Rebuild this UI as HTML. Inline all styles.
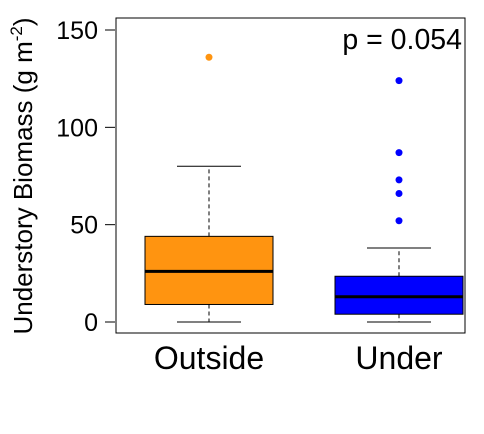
<!DOCTYPE html>
<html><head><meta charset="utf-8"><style>
body{margin:0;background:#fff}
text{font-family:"Liberation Sans",Arial,sans-serif}
</style></head><body>
<svg id="chart" width="484" height="429" xmlns="http://www.w3.org/2000/svg"></svg>
<script>
const categories=["Outside","Under"];
const colors=["#FF9410","#0000FF"];
const q1=[9,4];
const medians=[26,13];
const q3=[44,23.5];
const whiskLow=[0,0];
const whiskHigh=[80,38];
const outliers=[[136],[124,87,73,66,52]];
const yTicks=[0,50,100,150];
const pLabel="p = 0.054";

const svg=document.getElementById('chart');
const NS="http://www.w3.org/2000/svg";
function y(v){return 322-v*(322-30)/150;}
function xc(i){return 209+i*190;}
const halfW=64;
function mk(tag,attrs,parent){const e=document.createElementNS(NS,tag);for(const k in attrs)e.setAttribute(k,attrs[k]);(parent||svg).appendChild(e);return e;}

const frame=mk('rect',{x:116,y:18,width:349,height:315,fill:'none',stroke:'#000','stroke-width':1});



yTicks.forEach(t=>{
  const l=mk('line',{x1:105,x2:115,y1:y(t),y2:y(t),stroke:'#000'});
  
  
  const tx=mk('text',{x:98,y:y(t)+9,'text-anchor':'end','font-size':25});
  tx.textContent=t;
  
  
});

categories.forEach((c,i)=>{
  const g=mk('g',{});
  
  
  const cx=xc(i);
  mk('line',{x1:cx,x2:cx,y1:y(q3[i]),y2:y(whiskHigh[i]),stroke:'#000','stroke-dasharray':'4,3'},g);
  mk('line',{x1:cx,x2:cx,y1:y(q1[i]),y2:y(whiskLow[i]),stroke:'#000','stroke-dasharray':'4,3'},g);
  mk('line',{x1:cx-32,x2:cx+32,y1:y(whiskHigh[i]),y2:y(whiskHigh[i]),stroke:'#000'},g);
  mk('line',{x1:cx-32,x2:cx+32,y1:y(whiskLow[i]),y2:y(whiskLow[i]),stroke:'#000'},g);
  mk('rect',{x:cx-halfW,y:y(q3[i]),width:halfW*2,height:y(q1[i])-y(q3[i]),fill:colors[i],stroke:'#000'},g);
  mk('line',{x1:cx-halfW,x2:cx+halfW,y1:y(medians[i]),y2:y(medians[i]),stroke:'#000','stroke-width':3},g);
  outliers[i].forEach(o=>{
    const p=mk('circle',{cx:cx,cy:y(o),r:3.5,fill:colors[i]},g);
    
    
  });
  const t=mk('text',{x:cx,y:369,'text-anchor':'middle','font-size':32});
  t.textContent=c;
  
  
});

const pt=mk('text',{x:462,y:49,'text-anchor':'end','font-size':28.5});
pt.textContent=pLabel;



const yt=mk('text',{transform:'translate(32,176) rotate(-90)','text-anchor':'middle','font-size':26});
yt.innerHTML='Understory Biomass (g m<tspan dy="-10" font-size="17">-2</tspan><tspan dy="10">)</tspan>';


</script>
</body></html>
